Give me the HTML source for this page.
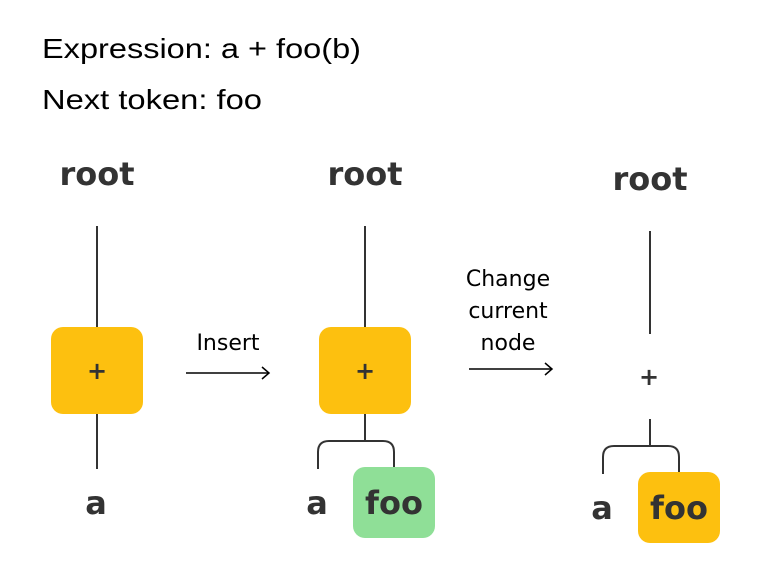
<!DOCTYPE html>
<html><head><meta charset="utf-8"><style>
body{margin:0;background:#fff;}
svg text{font-family:"DejaVu Sans","Liberation Sans",sans-serif;}
</style></head><body>
<svg width="770" height="581" viewBox="0 0 770 581" xmlns="http://www.w3.org/2000/svg">
<text x="42" y="58" font-size="28" fill="#000" textLength="319" lengthAdjust="spacingAndGlyphs" style="font-family:'Liberation Sans',sans-serif">Expression: a + foo(b)</text>
<text x="42" y="109" font-size="28" fill="#000" textLength="220" lengthAdjust="spacingAndGlyphs" style="font-family:'Liberation Sans',sans-serif">Next token: foo</text>
<g fill="#333" font-size="32" font-weight="bold" text-anchor="middle">
<text x="97" y="185">root</text>
<text x="365" y="185">root</text>
<text x="650" y="190">root</text>
<text x="96" y="514">a</text>
<text x="317" y="514">a</text>
<text x="602" y="519">a</text>
</g>
<g stroke="#333" stroke-width="2" fill="none">
<line x1="97" y1="226" x2="97" y2="327"/>
<line x1="97" y1="414" x2="97" y2="469"/>
<line x1="365" y1="226" x2="365" y2="327"/>
<line x1="365" y1="414" x2="365" y2="441"/>
<path d="M318 469 V452 Q318 441 329 441 H383 Q394 441 394 452 V467"/>
<line x1="650" y1="231" x2="650" y2="334"/>
<line x1="650" y1="419" x2="650" y2="446"/>
<path d="M603 474 V457 Q603 446 614 446 H668 Q679 446 679 457 V472"/>
</g>
<rect x="51" y="327" width="92" height="87" rx="12" fill="#fdc00f"/>
<rect x="319" y="327" width="92" height="87" rx="12" fill="#fdc00f"/>
<rect x="353" y="467" width="82" height="71" rx="12" fill="#8fdf97"/>
<rect x="638" y="472" width="82" height="71" rx="12" fill="#fdc00f"/>
<g fill="#333" font-size="24" font-weight="bold" text-anchor="middle">
<text x="97" y="379">+</text>
<text x="365" y="379">+</text>
<text x="649" y="385">+</text>
</g>
<g fill="#333" font-size="32" font-weight="bold" text-anchor="middle">
<text x="394" y="514">foo</text>
<text x="679" y="519">foo</text>
</g>
<g fill="#000" font-size="22" text-anchor="middle" style="font-family:'Liberation Sans',sans-serif">
<text x="228" y="350">Insert</text>
<text x="508" y="286">Change</text>
<text x="508" y="318">current</text>
<text x="508" y="350">node</text>
</g>
<g stroke="#000" stroke-width="1.5" fill="none">
<line x1="186" y1="373" x2="269" y2="373"/>
<path d="M262 367 L269 373 L262 379"/>
<line x1="469" y1="369" x2="552" y2="369"/>
<path d="M545 363 L552 369 L545 375"/>
</g>
</svg>
</body></html>
